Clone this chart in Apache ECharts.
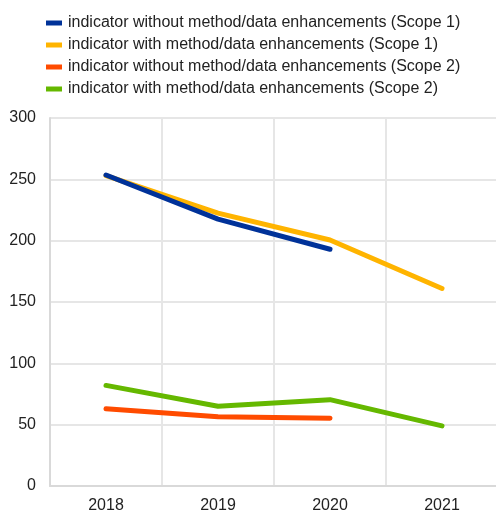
<!DOCTYPE html>
<html><head><meta charset="utf-8">
<script src="https://cdn.jsdelivr.net/npm/echarts@6/dist/echarts.min.js"></script>
<style>html,body{margin:0;padding:0;background:#fff}#c{width:496px;height:511px}</style>
</head><body><div id="c"></div>
<script>
var categories = ['2018','2019','2020','2021'];
var s1Without = [253.5, 217.5, 193, null];
var s1With = [253, 222.5, 200.5, 161];
var s2Without = [63, 56.5, 55.2, null];
var s2With = [82, 65, 70.4, 49];
var names = [
  'indicator without method/data enhancements (Scope 1)',
  'indicator with method/data enhancements (Scope 1)',
  'indicator without method/data enhancements (Scope 2)',
  'indicator with method/data enhancements (Scope 2)'
];
var colors = ['#003299','#FFB400','#FF4B00','#65B800'];
var data = [s1Without, s1With, s2Without, s2With];
var font = 'Liberation Sans, Arial, sans-serif';
var chart = echarts.init(document.getElementById('c'));
chart.setOption({
  animation: false,
  legend: {
    orient: 'vertical', left: 41, top: 9, itemWidth: 16, itemHeight: 5, itemGap: 4,
    icon: 'rect',
    textStyle: {fontFamily: font, fontSize: 16, lineHeight: 18, color: '#222', padding: [0,0,0,1]},
    data: names
  },
  grid: {left: 50, right: -2, top: 118, bottom: 25, containLabel: false, outerBoundsMode: 'none'},
  xAxis: {
    type: 'category', data: categories, boundaryGap: true,
    axisLine: {lineStyle: {color: '#d9d9d9', width: 2}},
    axisTick: {show: false},
    axisLabel: {fontFamily: font, fontSize: 16, color: '#222', margin: 12},
    splitLine: {show: true, lineStyle: {color: '#e6e6e6', width: 2}}
  },
  yAxis: {
    type: 'value', min: 0, max: 300, interval: 50,
    axisLine: {show: true, lineStyle: {color: '#d9d9d9', width: 2}},
    axisTick: {show: false},
    axisLabel: {fontFamily: font, fontSize: 16, color: '#222', margin: 14},
    splitLine: {lineStyle: {color: '#e6e6e6', width: 2}}
  },
  series: data.map(function(d, i){
    return {
      name: names[i], type: 'line', data: d, showSymbol: false, symbol: 'none',
      connectNulls: false,
      lineStyle: {color: colors[i], width: 5, cap: 'round', join: 'round'},
      itemStyle: {color: colors[i]}, z: 10 - i
    };
  })
});
</script></body></html>
